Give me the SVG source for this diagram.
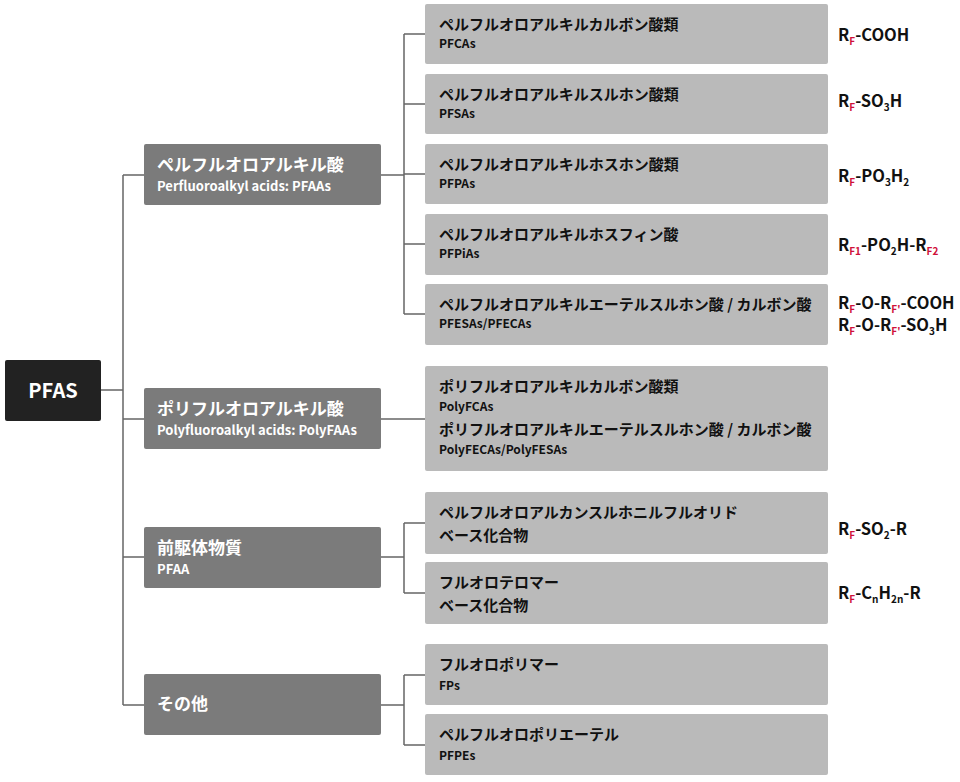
<svg xmlns="http://www.w3.org/2000/svg" width="960" height="782" viewBox="0 0 960 782">
<style>
text{font-family:"Noto Sans CJK JP","Noto Sans",sans-serif;font-weight:bold}
.l1{fill:#7b7b7b}.l2{fill:#bababa}
.w{fill:#fff}.k{fill:#111}
.t1{font-size:17px}.s1{font-size:13px}
.t2{font-size:15px}.s2{font-size:12px}
.f{font-size:16.5px;fill:#111}.r{fill:#d0103a;font-size:10px}
</style>
<rect width="960" height="782" fill="#fff"/>
<g id="connectors" fill="none" stroke="#666" stroke-width="1.5">
<path d="M101 390H123M123 175V705M123 175H144M123 419H144M123 557H144M123 705H144"/>
<path d="M381 175H404M404 34V314M404 34H425M404 104H425M404 174H425M404 244H425M404 314H425"/>
<path d="M381 419H425"/>
<path d="M381 557H404M404 523V593M404 523H425M404 593H425"/>
<path d="M381 705H404M404 675V745M404 675H425M404 745H425"/>
</g>
<g id="pfas"><rect x="5" y="360" width="96" height="61" rx="2" fill="#222"/><text x="53" y="398" text-anchor="middle" class="w" font-size="20">PFAS</text></g>
<g id="pfaa"><rect class="l1" x="144" y="144" width="237" height="61" rx="2"/><text x="157" y="171" class="w t1">ペルフルオロアルキル酸</text><text x="157" y="191" class="w s1">Perfluoroalkyl acids: PFAAs</text></g>
<g id="polyfaa"><rect class="l1" x="144" y="388" width="237" height="61" rx="2"/><text x="157" y="415" class="w t1">ポリフルオロアルキル酸</text><text x="157" y="435" class="w s1">Polyfluoroalkyl acids: PolyFAAs</text></g>
<g id="precursor"><rect class="l1" x="144" y="527" width="237" height="61" rx="2"/><text x="157" y="554" class="w t1">前駆体物質</text><text x="157" y="574" class="w s1">PFAA</text></g>
<g id="other"><rect class="l1" x="144" y="674" width="237" height="61" rx="2"/><text x="157" y="710" class="w t1">その他</text></g>
<g id="pfca"><rect class="l2" x="425" y="4" width="403" height="60" rx="2"/><text x="439" y="30" class="k t2">ペルフルオロアルキルカルボン酸類</text><text x="439" y="48" class="k s2">PFCAs</text></g>
<g id="pfsa"><rect class="l2" x="425" y="74" width="403" height="60" rx="2"/><text x="439" y="100" class="k t2">ペルフルオロアルキルスルホン酸類</text><text x="439" y="118" class="k s2">PFSAs</text></g>
<g id="pfpa"><rect class="l2" x="425" y="144" width="403" height="60" rx="2"/><text x="439" y="170" class="k t2">ペルフルオロアルキルホスホン酸類</text><text x="439" y="188" class="k s2">PFPAs</text></g>
<g id="pfpia"><rect class="l2" x="425" y="214" width="403" height="61" rx="2"/><text x="439" y="240" class="k t2">ペルフルオロアルキルホスフィン酸</text><text x="439" y="258" class="k s2">PFPiAs</text></g>
<g id="pfesa"><rect class="l2" x="425" y="284" width="403" height="61" rx="2"/><text x="439" y="310" class="k t2">ペルフルオロアルキルエーテルスルホン酸 / カルボン酸</text><text x="439" y="328" class="k s2">PFESAs/PFECAs</text></g>
<g id="polyfca"><rect class="l2" x="425" y="366" width="403" height="105" rx="2"/><text x="439" y="392" class="k t2">ポリフルオロアルキルカルボン酸類</text><text x="439" y="411" class="k s2">PolyFCAs</text><text x="439" y="435" class="k t2">ポリフルオロアルキルエーテルスルホン酸 / カルボン酸</text><text x="439" y="454" class="k s2">PolyFECAs/PolyFESAs</text></g>
<g id="sulfonyl"><rect class="l2" x="425" y="492" width="403" height="62" rx="2"/><text x="439" y="518" class="k t2">ペルフルオロアルカンスルホニルフルオリド</text><text x="439" y="541" class="k t2">ベース化合物</text></g>
<g id="telomer"><rect class="l2" x="425" y="562" width="403" height="62" rx="2"/><text x="439" y="588" class="k t2">フルオロテロマー</text><text x="439" y="611" class="k t2">ベース化合物</text></g>
<g id="fp"><rect class="l2" x="425" y="644" width="403" height="61" rx="2"/><text x="439" y="670" class="k t2">フルオロポリマー</text><text x="439" y="690" class="k s2">FPs</text></g>
<g id="pfpe"><rect class="l2" x="425" y="714" width="403" height="61" rx="2"/><text x="439" y="740" class="k t2">ペルフルオロポリエーテル</text><text x="439" y="760" class="k s2">PFPEs</text></g>
<g id="formulas" class="f">
<text x="838" y="41">R<tspan class="r" dy="4">F</tspan><tspan dy="-4">-COOH</tspan></text>
<text x="838" y="107">R<tspan class="r" dy="4">F</tspan><tspan dy="-4">-SO</tspan><tspan font-size="10" dy="4">3</tspan><tspan dy="-4">H</tspan></text>
<text x="838" y="182">R<tspan class="r" dy="4">F</tspan><tspan dy="-4">-PO</tspan><tspan font-size="10" dy="4">3</tspan><tspan dy="-4">H</tspan><tspan font-size="10" dy="4">2</tspan></text>
<text x="838" y="251">R<tspan class="r" dy="4">F1</tspan><tspan dy="-4">-PO</tspan><tspan font-size="10" dy="4">2</tspan><tspan dy="-4">H-R</tspan><tspan class="r" dy="4">F2</tspan></text>
<text x="838" y="309">R<tspan class="r" dy="4">F</tspan><tspan dy="-4">-O-R</tspan><tspan class="r" dy="4">F'</tspan><tspan dy="-4">-COOH</tspan></text>
<text x="838" y="331">R<tspan class="r" dy="4">F</tspan><tspan dy="-4">-O-R</tspan><tspan class="r" dy="4">F'</tspan><tspan dy="-4">-SO</tspan><tspan font-size="10" dy="4">3</tspan><tspan dy="-4">H</tspan></text>
<text x="838" y="535">R<tspan class="r" dy="4">F</tspan><tspan dy="-4">-SO</tspan><tspan font-size="10" dy="4">2</tspan><tspan dy="-4">-R</tspan></text>
<text x="838" y="599">R<tspan class="r" dy="4">F</tspan><tspan dy="-4">-C</tspan><tspan font-size="10" dy="4">n</tspan><tspan dy="-4">H</tspan><tspan font-size="10" dy="4">2n</tspan><tspan dy="-4">-R</tspan></text>
</g>
</svg>
